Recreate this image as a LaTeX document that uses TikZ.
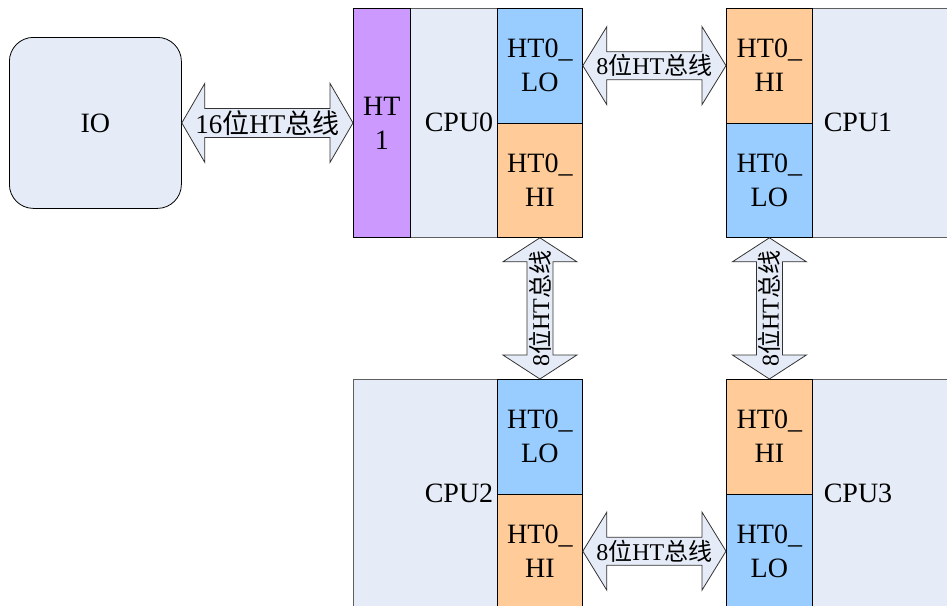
\documentclass[tikz,border=0pt]{standalone}
\usepackage{fontspec}
\setmainfont{Liberation Serif}
\newfontfamily\cjk{Noto Sans CJK SC}
\usetikzlibrary{calc}
\definecolor{bodyc}{RGB}{230,236,247}
\definecolor{purp}{RGB}{204,153,255}
\definecolor{blu}{RGB}{153,204,255}
\definecolor{ora}{RGB}{255,204,153}
\definecolor{frm}{RGB}{95,95,95}
\newcommand\hdbl[5]{%
  \draw[arrowbody] let \p1=(#1), \p2=(#2) in
    (\x1,\y1) -- (\x1+#3pt,\y1+#4pt) -- (\x1+#3pt,\y1+#5pt) -- (\x2-#3pt,\y2+#5pt)
    -- (\x2-#3pt,\y2+#4pt) -- (\x2,\y2) -- (\x2-#3pt,\y2-#4pt) -- (\x2-#3pt,\y2-#5pt)
    -- (\x1+#3pt,\y1-#5pt) -- (\x1+#3pt,\y1-#4pt) -- cycle;}
\newcommand\vdbl[5]{%
  \draw[arrowbody] let \p1=(#1), \p2=(#2) in
    (\x1,\y1) -- (\x1+#4pt,\y1-#3pt) -- (\x1+#5pt,\y1-#3pt) -- (\x2+#5pt,\y2+#3pt)
    -- (\x2+#4pt,\y2+#3pt) -- (\x2,\y2) -- (\x2-#4pt,\y2+#3pt) -- (\x2-#5pt,\y2+#3pt)
    -- (\x1-#5pt,\y1-#3pt) -- (\x1-#4pt,\y1-#3pt) -- cycle;}
\newcommand\busl[1]{#1{\cjk 位}HT{\cjk 总线}}
\tikzset{
  frame/.style={draw=frm, line width=1.1pt, fill=bodyc, anchor=north west, inner sep=0pt},
  port/.style={draw=black, line width=0.8pt, anchor=north west, inner sep=0pt, align=center,
    font=\fontsize{28}{34}\selectfont},
  lo/.style={port, fill=blu},
  hi/.style={port, fill=ora},
  cpulbl/.style={font=\fontsize{28}{34}\selectfont, inner sep=0pt},
  arrowbody/.style={draw=black!80, line width=0.8pt, fill=bodyc, line join=miter},
  buslbl/.style={inner sep=0pt, font=\fontsize{24}{28}\selectfont},
}
\begin{document}
\begin{tikzpicture}[x=1pt,y=-1pt]
\useasboundingbox (0,0) rectangle (947,605);
\clip (0,0) rectangle (947,605);
% IO
\node[draw=black, line width=0.8pt, fill=bodyc, rounded corners=24pt, anchor=north west,
  minimum width=172pt, minimum height=171pt, inner sep=0pt,
  font=\fontsize{28}{34}\selectfont] (io) at (9,37) {IO};
% CPU0
\node[frame, minimum width=229pt, minimum height=229pt] (cpu0) at (353,8) {};
\node[port, fill=purp, minimum width=57pt, minimum height=229pt] (ht1) at (353,8) {HT\\1};
\node[lo, minimum width=85pt, minimum height=114.5pt] (c0lo) at (497,8) {HT0\_\\LO};
\node[hi, minimum width=85pt, minimum height=114.5pt] (c0hi) at (497,122.5) {HT0\_\\HI};
\node[cpulbl] (c0l) at (459,122) {CPU0};
% CPU1
\node[frame, minimum width=240pt, minimum height=229pt] (cpu1) at (726,8) {};
\node[hi, minimum width=86pt, minimum height=114.5pt] (c1hi) at (726,8) {HT0\_\\HI};
\node[lo, minimum width=86pt, minimum height=114.5pt] (c1lo) at (726,122.5) {HT0\_\\LO};
\node[cpulbl] (c1l) at (858,122) {CPU1};
% CPU2
\node[frame, minimum width=229pt, minimum height=240pt] (cpu2) at (353,379) {};
\node[lo, minimum width=85pt, minimum height=114.5pt] (c2lo) at (497,379) {HT0\_\\LO};
\node[hi, minimum width=85pt, minimum height=114.5pt] (c2hi) at (497,493.5) {HT0\_\\HI};
\node[cpulbl] (c2l) at (459,493) {CPU2};
% CPU3
\node[frame, minimum width=240pt, minimum height=240pt] (cpu3) at (726,379) {};
\node[hi, minimum width=86pt, minimum height=114.5pt] (c3hi) at (726,379) {HT0\_\\HI};
\node[lo, minimum width=86pt, minimum height=114.5pt] (c3lo) at (726,493.5) {HT0\_\\LO};
\node[cpulbl] (c3l) at (858,493) {CPU3};
% buses
\hdbl{io.east}{ht1.west}{23}{39.5}{14.5}
\node[buslbl, font=\fontsize{27}{30}\selectfont] (b16) at ($(io.east)!0.5!(ht1.west)$) {\busl{16}};
\hdbl{c0lo.east}{c1hi.west}{24}{39}{14}
\node[buslbl] (b01) at ($(c0lo.east)!0.5!(c1hi.west)$) {\busl{8}};
\hdbl{c2hi.east}{c3lo.west}{24}{39}{14}
\node[buslbl] (b23) at ($(c2hi.east)!0.5!(c3lo.west)$) {\busl{8}};
\vdbl{c0hi.south}{c2lo.north}{24}{37}{13}
\node[buslbl, rotate=90] (b02) at ($(c0hi.south)!0.5!(c2lo.north)$) {\busl{8}};
\vdbl{c1lo.south}{c3hi.north}{24}{37}{13}
\node[buslbl, rotate=90] (b13) at ($(c1lo.south)!0.5!(c3hi.north)$) {\busl{8}};
\end{tikzpicture}
\end{document}
